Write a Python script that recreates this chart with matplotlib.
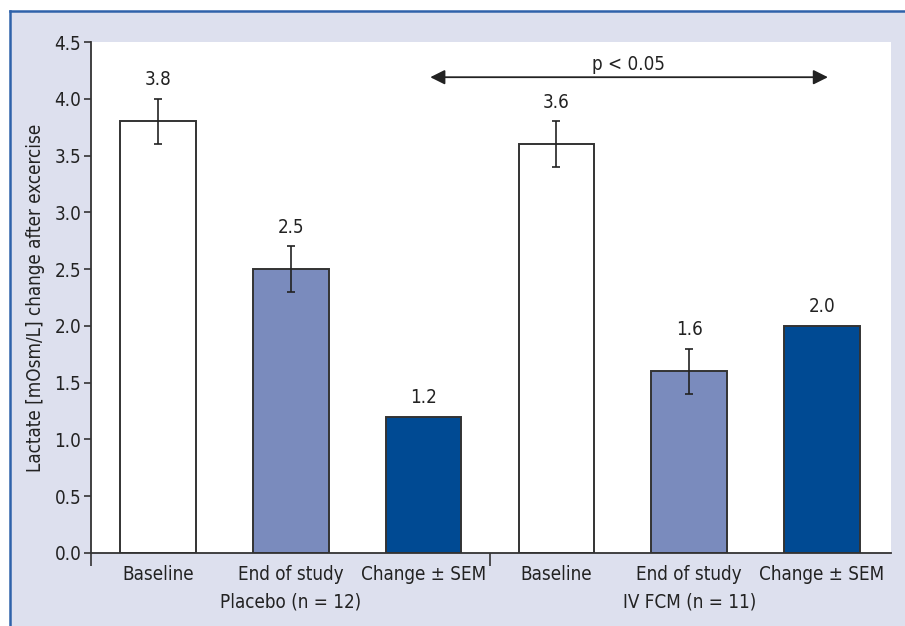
import numpy as np
import matplotlib.pyplot as plt
from matplotlib.patches import Rectangle
from matplotlib.lines import Line2D

plt.rcParams['font.family'] = ['DejaVu Sans']
plt.rcParams['font.stretch'] = 'condensed'

categories = ['Baseline', 'End of study', 'Change ± SEM',
              'Baseline', 'End of study', 'Change ± SEM']
groups = ['Placebo (n = 12)', 'IV FCM (n = 11)']
values = [3.8, 2.5, 1.2, 3.6, 1.6, 2.0]
errors = [0.2, 0.2, 0.0, 0.2, 0.2, 0.0]
labels = ['3.8', '2.5', '1.2', '3.6', '1.6', '2.0']
colors = ['white', '#7a8bbd', '#004a93', 'white', '#7a8bbd', '#004a93']

bg = '#dde0ee'
edge = '#333333'
txt = '#222222'
fs = 13.5

fig = plt.figure(figsize=(9.05, 6.26), dpi=100, facecolor='white')

# panel background with blue frame on top and left
fig.patches.append(Rectangle((10 / 905, 0), 1, 615 / 626, transform=fig.transFigure,
                             facecolor=bg, edgecolor='none', zorder=-2))
fig.lines.append(Line2D([9.5 / 905, 1], [615 / 626, 615 / 626], transform=fig.transFigure,
                        color='#2f62aa', lw=1.8, zorder=-1))
fig.lines.append(Line2D([9.5 / 905, 9.5 / 905], [0, 615 / 626], transform=fig.transFigure,
                        color='#2f62aa', lw=1.8, zorder=-1))

ax = fig.add_axes([91 / 905, 1 - 553 / 626, 800 / 905, 511 / 626])
ax.set_facecolor('white')
ax.set_zorder(1)

x = np.arange(len(values))
ax.bar(x, values, width=0.57, color=colors, edgecolor=edge, linewidth=1.4, zorder=2)

has_err = [e > 0 for e in errors]
ax.errorbar(x[has_err], np.array(values)[has_err], yerr=np.array(errors)[has_err],
            fmt='none', ecolor=txt, elinewidth=1.2, capsize=3, capthick=1.2, zorder=3)

for xi, v, e, t in zip(x, values, errors, labels):
    ax.annotate(t, (xi, v + e), xytext=(0, 7), textcoords='offset points',
                ha='center', va='bottom', fontsize=fs, color=txt)

ax.set_xlim(-0.505, 5.52)
ax.set_ylim(0, 4.5)
ax.set_yticks(np.arange(0, 4.51, 0.5))
ax.set_yticklabels([f'{t:.1f}' for t in np.arange(0, 4.51, 0.5)])
ax.tick_params(axis='y', labelsize=fs, length=5, width=1.2, color=edge, labelcolor=txt, pad=2)

# only the group separator gets a tick on the x axis
ax.set_xticks([-0.505, 2.5])
ax.set_xticklabels(['', ''])
ax.tick_params(axis='x', length=9, width=1.2, color=edge)

for xi, c in zip(x, categories):
    ax.text(xi, -0.043, c, transform=ax.get_xaxis_transform(), ha='center', va='center',
            fontsize=fs, color=txt)
for xi, g in zip([1, 4], groups):
    ax.text(xi, -0.096, g, transform=ax.get_xaxis_transform(), ha='center', va='center',
            fontsize=fs, color=txt)

for side in ['top', 'right']:
    ax.spines[side].set_visible(False)
for side in ['left', 'bottom']:
    ax.spines[side].set_color(edge)
    ax.spines[side].set_linewidth(1.3)

ax.set_ylabel('Lactate [mOsm/L] change after excercise', fontsize=fs, color=txt, labelpad=7)

# significance arrow between the two groups
ax.annotate('', xy=(5.045, 4.19), xytext=(2.05, 4.19),
            arrowprops=dict(arrowstyle='<|-|>', color=txt, lw=1.3,
                            mutation_scale=22, shrinkA=0, shrinkB=0))
ax.text(3.54, 4.3, 'p < 0.05', ha='center', va='center', fontsize=fs, color=txt)

fig.savefig('out.png', dpi=100, facecolor=fig.get_facecolor())
